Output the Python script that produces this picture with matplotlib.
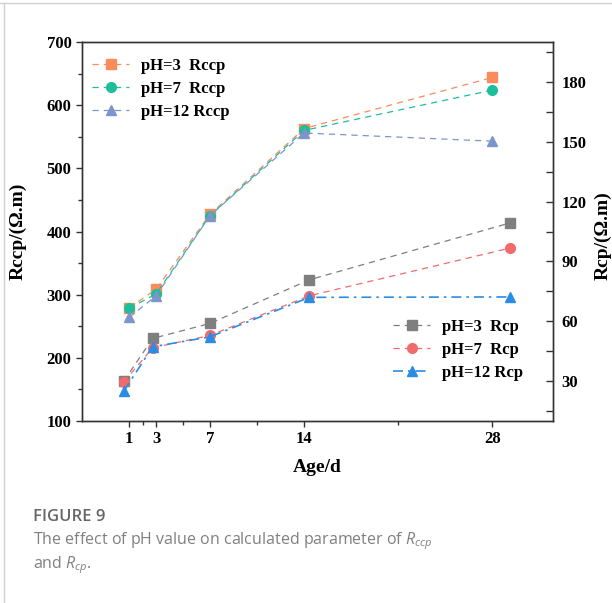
import matplotlib
matplotlib.use("Agg")
import matplotlib.pyplot as plt
from matplotlib.lines import Line2D
from matplotlib.ticker import FixedLocator, MultipleLocator

# curing age (days) and the fitted resistances
age_ccp = [1, 3, 7, 14, 28]
age_cp = [0.6, 2.75, 7.0, 14.4, 29.3]
age_ticks = [1, 3, 7, 14, 28]
age_minor = [2, 5, 10.5, 21]

rccp_ph3 = [279, 308.5, 427, 563, 644]
rccp_ph7 = [278.5, 301, 425, 560, 624]
rccp_ph12 = [264, 298, 425, 556, 543]

rcp_ph3 = [30, 51.4, 58.9, 80.8, 109.3]
rcp_ph7 = [29.5, 46.7, 52.9, 72.8, 96.7]
rcp_ph12 = [25, 47.2, 52.2, 72.0, 72.2]

plt.rcParams['font.family'] = 'Liberation Serif'
plt.rcParams['font.weight'] = 'bold'
plt.rcParams['mathtext.fontset'] = 'custom'
plt.rcParams['mathtext.it'] = 'Open Sans:italic:weight=normal'
plt.rcParams['mathtext.rm'] = 'Open Sans:weight=normal'

spine_col = '#333333'

fig = plt.figure(figsize=(6.12, 6.03), dpi=100)
ax1 = fig.add_axes([0.134, 0.3018, 0.7696, 0.6285])
ax2 = ax1.twinx()

ms = 7
l1, = ax1.plot(age_ccp, rccp_ph3, ls=(0, (5, 4)), lw=0.9, color='#FA8C5C',
               marker='s', ms=ms, label='pH=3  Rccp')
l2, = ax1.plot(age_ccp, rccp_ph7, ls=(0, (5, 4)), lw=0.9, color='#1DBF9B',
               marker='o', ms=ms, label='pH=7  Rccp')
l3, = ax1.plot(age_ccp, rccp_ph12, ls=(0, (5, 4)), lw=0.9, color='#7D95CB',
               marker='^', ms=ms, label='pH=12 Rccp')

l4, = ax2.plot(age_cp, rcp_ph3, ls=(0, (5, 4)), lw=0.9, color='#7F7F7F',
               marker='s', ms=ms, label='pH=3  Rcp')
l5, = ax2.plot(age_cp, rcp_ph7, ls=(0, (5, 4)), lw=0.9, color='#F26B6B',
               marker='o', ms=ms, label='pH=7  Rcp')
l6, = ax2.plot(age_cp, rcp_ph12, ls=(0, (6, 3, 1.5, 3)), lw=1.2, color='#2B8CE6',
               marker='^', ms=ms, label='pH=12 Rcp')

ax1.set_xlim(-2.5, 32.5)
ax1.set_ylim(100, 700)
ax2.set_ylim(10, 200)

ax1.xaxis.set_major_locator(FixedLocator(age_ticks))
ax1.xaxis.set_minor_locator(FixedLocator(age_minor))
ax1.yaxis.set_major_locator(MultipleLocator(100))
ax1.yaxis.set_minor_locator(MultipleLocator(50))
ax2.yaxis.set_major_locator(FixedLocator([30, 60, 90, 120, 150, 180]))
ax2.yaxis.set_minor_locator(FixedLocator([15, 45, 75, 105, 135, 165, 195]))

for ax in (ax1, ax2):
    for s in ax.spines.values():
        s.set_color(spine_col)
        s.set_linewidth(1.0)

ax1.tick_params(axis='both', which='major', direction='out', length=4.5,
                width=1.0, color=spine_col, labelsize=12, pad=3)
ax1.tick_params(axis='both', which='minor', direction='out', length=3,
                width=1.0, color=spine_col)
ax2.tick_params(axis='y', which='major', direction='in', length=5,
                width=1.0, color=spine_col, labelsize=12, pad=6)
ax2.tick_params(axis='y', which='minor', direction='in', length=5,
                width=1.0, color=spine_col)

ax1.set_xlabel('Age/d', fontsize=14, fontweight='bold')
ax1.set_ylabel('Rccp/(\u03a9.m)', fontsize=14, fontweight='bold')
ax2.set_ylabel('Rcp/(\u03a9.m)', fontsize=14, fontweight='bold')
ax1.xaxis.set_label_coords(0.499, -0.1)
ax1.yaxis.set_label_coords(-0.117, 0.5)
ax2.yaxis.set_label_coords(1.087, 0.49)

leg_kw = dict(frameon=False, handlelength=2.25, handletextpad=0.7,
              labelspacing=0.42, borderpad=0, borderaxespad=0,
              prop={'weight': 'bold', 'size': 12})
ax1.legend(handles=[l1, l2, l3], loc='upper left',
           bbox_to_anchor=(0.021, 0.957), **leg_kw)
ax2.legend(handles=[l4, l5, l6], loc='upper left',
           bbox_to_anchor=(0.660, 0.269), **leg_kw)

# caption block under the chart
fig.text(0.054, 1 - 517 / 603, 'FIGURE 9', family='Open Sans',
         fontweight='semibold', fontsize=12, color='#666666', va='center')
fig.text(0.054, 1 - 541 / 603,
         'The effect of pH value on calculated parameter of $R_{ccp}$',
         family='Open Sans', fontweight='normal', fontsize=11.5,
         color='#808080', va='center')
fig.text(0.054, 1 - 565 / 603, 'and $R_{cp}$.', family='Open Sans',
         fontweight='normal', fontsize=11.5, color='#808080', va='center')

# thin page frame along the top and left edge
fig.add_artist(Line2D([0, 1], [1 - 2.5 / 603] * 2, color='#d0d0d0', lw=1.0,
                      transform=fig.transFigure))
fig.add_artist(Line2D([4 / 612] * 2, [0, 1 - 2.5 / 603], color='#d0d0d0',
                      lw=1.0, transform=fig.transFigure))

fig.savefig('out.png', dpi=100)
